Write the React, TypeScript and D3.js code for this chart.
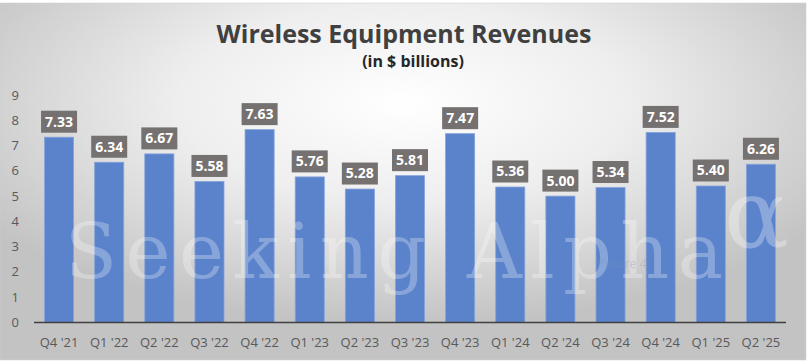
import React, { useMemo } from 'react';
import * as d3 from 'd3';

// ── Data ──────────────────────────────────────────────────────────────────────
const QUARTERS = [
  "Q4 '21", "Q1 '22", "Q2 '22", "Q3 '22", "Q4 '22", "Q1 '23", "Q2 '23", "Q3 '23",
  "Q4 '23", "Q1 '24", "Q2 '24", "Q3 '24", "Q4 '24", "Q1 '25", "Q2 '25",
];
const REVENUES = [7.33, 6.34, 6.67, 5.58, 7.63, 5.76, 5.28, 5.81, 7.47, 5.36, 5.0, 5.34, 7.52, 5.4, 6.26];
const Y_TICKS = [0, 1, 2, 3, 4, 5, 6, 7, 8, 9];

const TITLE = 'Wireless Equipment Revenues';
const SUBTITLE = '(in $ billions)';

// ── Layout ────────────────────────────────────────────────────────────────────
const W = 807;
const H = 362;
const FONT = '"Open Sans", "Noto Sans", sans-serif';
const BAR = '#5B83CB';
const LABEL_BG = '#767171';
const AXIS_TEXT = '#595959';

export default function App() {
  const x = useMemo(
    () => d3.scaleBand<string>().domain(QUARTERS).range([34, 786]).paddingInner(0.42).paddingOuter(0.21),
    []
  );
  const y = useMemo(() => d3.scaleLinear().domain([0, 9]).range([322.5, 95]), []);

  const bw = x.bandwidth();

  return (
    <div style={{ position: 'absolute', left: 0, top: 0, width: W, height: H, background: '#fff' }}>
      <svg width={W} height={H} style={{ display: 'block' }}>
        <defs>
          <radialGradient id="bg" cx="0.5" cy="0.28" r="0.62" gradientUnits="objectBoundingBox">
            <stop offset="0%" stopColor="#ffffff" />
            <stop offset="45%" stopColor="#eeeeee" />
            <stop offset="100%" stopColor="#c3c3c3" />
          </radialGradient>
          <clipPath id="box">
            <rect x={0} y={3} width={806} height={357} />
          </clipPath>
        </defs>

        {/* chart box */}
        <rect x={0} y={3} width={806} height={357} fill="url(#bg)" stroke="#d0d0d0" strokeWidth={0.5} />

        {/* titles */}
        <text x={404} y={43} textAnchor="middle" fontFamily={FONT} fontWeight={700} fontSize={25} fill="#404040">
          {TITLE}
        </text>
        <text x={413} y={67} textAnchor="middle" fontFamily={FONT} fontWeight={700} fontSize={16} fill="#262626">
          {SUBTITLE}
        </text>

        {/* y tick labels */}
        {Y_TICKS.map(t => (
          <text key={t} x={19} y={y(t)} dy="0.35em" textAnchor="end" fontFamily={FONT} fontSize={13} fill={AXIS_TEXT}>
            {t}
          </text>
        ))}

        {/* bars */}
        {REVENUES.map((v, i) => (
          <rect
            key={QUARTERS[i]}
            x={x(QUARTERS[i])}
            y={y(v)}
            width={bw}
            height={y(0) - y(v)}
            fill={BAR}
            stroke="#86a3dc"
            strokeWidth={0.8}
          />
        ))}

        {/* watermark */}
        <g pointerEvents="none" clipPath="url(#box)">
          <text
            x={65}
            y={278}
            textLength={658}
            lengthAdjust="spacing"
            fontFamily='"DejaVu Serif", "Liberation Serif", serif'
            fontSize={76}
            fill="#ffffff"
            fillOpacity={0.28}
          >
            Seeking Alpha
          </text>
          <text x={724} y={247} fontFamily='"DejaVu Serif", serif' fontSize={96} fill="#ffffff" fillOpacity={0.3}>
            α
          </text>
          <text x={597} y={268} fontFamily={FONT} fontSize={12} fill="#8090b0" fillOpacity={0.3}>
            Picture 4
          </text>
        </g>

        {/* axis line */}
        <line x1={34} x2={786} y1={y(0)} y2={y(0)} stroke="#404040" strokeWidth={1.5} />

        {/* x labels */}
        {QUARTERS.map(q => (
          <text
            key={q}
            x={(x(q) ?? 0) + bw / 2}
            y={342}
            dy="0.35em"
            textAnchor="middle"
            fontFamily={FONT}
            fontSize={13}
            fill={AXIS_TEXT}
          >
            {q}
          </text>
        ))}

        {/* data labels */}
        {REVENUES.map((v, i) => {
          const cx = (x(QUARTERS[i]) ?? 0) + bw / 2;
          const bottom = y(v) - 4.5;
          return (
            <g key={'l' + i}>
              <rect x={cx - 18} y={bottom - 22} width={36} height={22} fill={LABEL_BG} />
              <text x={cx} y={bottom - 11} dy="0.35em" textAnchor="middle" fontFamily={FONT} fontWeight={700} fontSize={14} fill="#ffffff">
                {v.toFixed(2)}
              </text>
            </g>
          );
        })}
      </svg>
    </div>
  );
}
